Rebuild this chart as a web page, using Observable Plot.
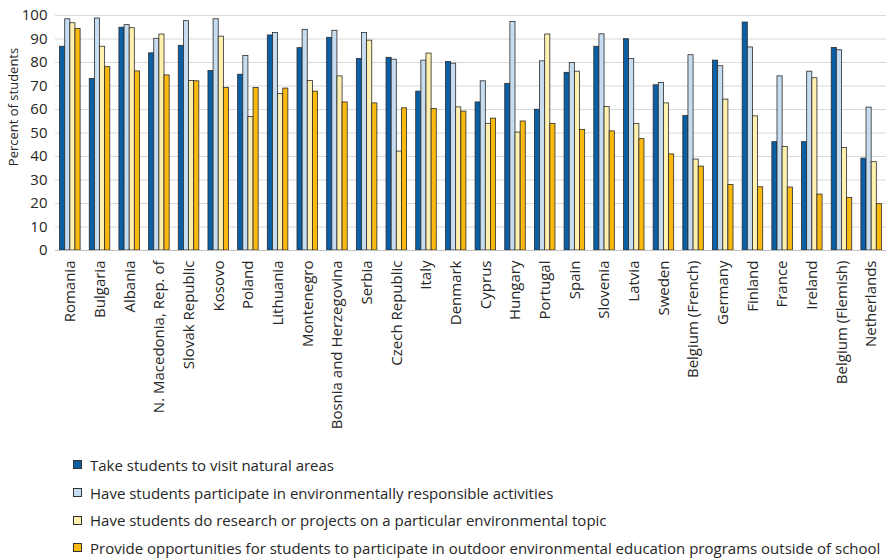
<!DOCTYPE html>
<html>
<head>
<meta charset="utf-8">
<script src="https://cdn.jsdelivr.net/npm/d3@7"></script>
<script src="https://cdn.jsdelivr.net/npm/@observablehq/plot@0.6"></script>
<style>
  html, body { margin: 0; padding: 0; background: #fff; }
  body { width: 889px; height: 559px; overflow: hidden; font-family: "Open Sans", sans-serif; }
  #legend { margin-left: 73px; margin-top: 11px; font-size: 15px; color: #262626; }
  .item { height: 27.7px; display: flex; align-items: center; white-space: nowrap; }
  .sw { width: 7px; height: 7px; border: 1px solid #333; margin-right: 8px; flex: none; }
</style>
</head>
<body>
<div id="chart"></div>
<div id="legend"></div>
<script>
const countries = ["Romania","Bulgaria","Albania","N. Macedonia, Rep. of","Slovak Republic","Kosovo","Poland","Lithuania","Montenegro","Bosnia and Herzegovina","Serbia","Czech Republic","Italy","Denmark","Cyprus","Hungary","Portugal","Spain","Slovenia","Latvia","Sweden","Belgium (French)","Germany","Finland","France","Ireland","Belgium (Flemish)","Netherlands"];
const seriesNames = [
  "Take students to visit natural areas",
  "Have students participate in environmentally responsible activities",
  "Have students do research or projects on a particular environmental topic",
  "Provide opportunities for students to participate in outdoor environmental education programs outside of school"
];
const seriesColors = ["#0b5fa5", "#c6dcf0", "#fff0b0", "#f9b90f"];
const visitNatural = [86.7,73.0,94.8,83.9,87.1,76.4,74.8,91.5,86.1,90.5,81.5,82.0,67.6,80.2,63.0,70.9,59.9,75.6,86.7,89.9,70.3,57.2,80.8,97.0,46.1,46.1,86.2,39.1];
const responsibleActivities = [98.4,98.7,95.9,90.1,97.6,98.4,82.8,92.6,93.9,93.5,92.6,81.2,80.8,79.5,72.0,97.3,80.5,79.8,92.0,81.5,71.3,83.1,78.4,86.4,74.1,76.1,85.2,60.8];
const researchProjects = [96.7,86.7,94.6,91.9,72.1,91.0,56.8,66.6,72.1,74.1,89.3,42.1,83.8,60.9,53.9,50.2,91.9,76.1,61.1,53.8,62.6,38.7,64.2,57.1,44.1,73.3,43.6,37.6];
const outdoorPrograms = [94.3,78.0,76.2,74.5,72.0,69.2,69.2,68.9,67.6,63.0,62.6,60.5,60.2,59.1,56.1,54.9,53.8,51.3,50.7,47.4,40.9,35.7,27.9,26.9,26.8,23.8,22.3,19.7];
const yTicks = [0,10,20,30,40,50,60,70,80,90,100];
const yTitle = ["Percent of students"];

const seriesValues = [visitNatural, responsibleActivities, researchProjects, outdoorPrograms];
const data = [];
countries.forEach((c, i) => {
  seriesNames.forEach((s, j) => data.push({country: c, series: s, value: seriesValues[j][i]}));
});

const chart = Plot.plot({
  width: 889,
  height: 440,
  marginTop: 15,
  marginBottom: 190,
  marginLeft: 55,
  marginRight: 3,
  style: {fontFamily: "Open Sans", fontSize: "15px", color: "#262626", background: "#fff"},
  fx: {domain: countries, padding: 0, round: false, label: null, tickRotate: -90, tickSize: 0, tickPadding: 10, axis: "bottom"},
  x: {domain: seriesNames, paddingInner: 0, paddingOuter: 0.89, round: false, axis: null},
  y: {domain: [0, 100], ticks: yTicks, tickSize: 0, tickPadding: 8, grid: false, label: null},
  color: {domain: seriesNames, range: seriesColors},
  marks: [
    Plot.ruleY(yTicks.filter(d => d > 0), {stroke: "#d9d9d9", strokeWidth: 1}),
    Plot.barY(data, {fx: "country", x: "series", y: "value", fill: "series", stroke: "#2b2b2b", strokeWidth: 0.8}),
    Plot.ruleY([0], {stroke: "#bfbfbf", strokeWidth: 1}),
    Plot.text(yTitle, {text: d => d, facet: "super", frameAnchor: "left", textAnchor: "middle", rotate: -90, dx: -42, dy: -26, fontSize: 13, fill: "#262626"})
  ]
});
document.getElementById("chart").appendChild(chart);

const legend = d3.select("#legend");
seriesNames.forEach((s, j) => {
  const it = legend.append("div").attr("class", "item");
  it.append("div").attr("class", "sw").style("background", seriesColors[j]);
  it.append("span").text(s);
});
</script>
</body>
</html>
